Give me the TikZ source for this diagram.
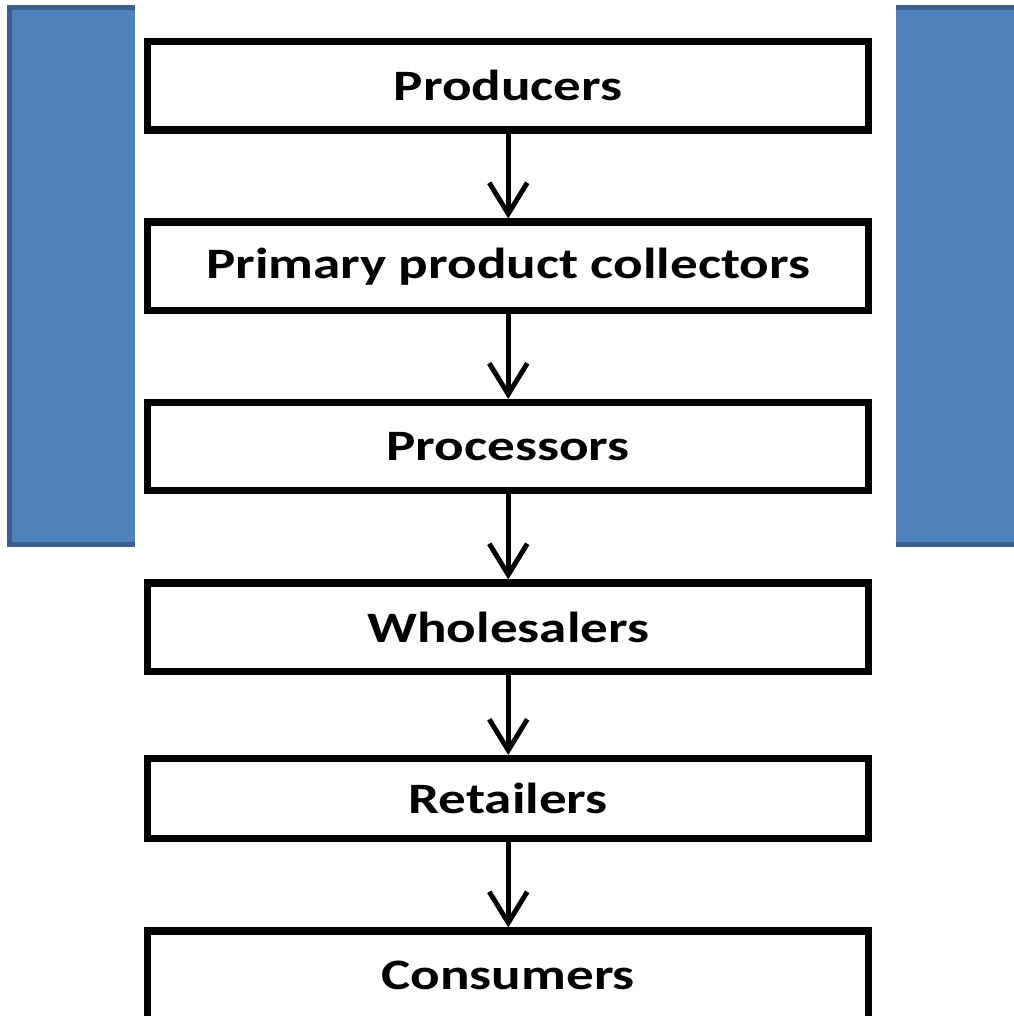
\documentclass[tikz,border=0pt]{standalone}
\usepackage{fontspec}
\setmainfont{Carlito}[FakeStretch=1.27]
\usetikzlibrary{positioning, arrows.meta}
\definecolor{slideblue}{HTML}{4F81BD}
\definecolor{slideedge}{HTML}{3A5F8E}

\begin{document}
\begin{tikzpicture}[
    x=0.02cm, y=-0.02cm,
    node distance=1.7cm,
    every node/.style={font=\fontsize{24.7}{28}\selectfont\bfseries, align=center},
    box/.style={
        draw, line width=4pt, fill=white,
        minimum width=14.43cm, minimum height=1.77cm, inner sep=0pt
    },
    line/.style={-{Straight Barb[length=0.62cm, width=0.76cm]}, line width=2.8pt}
]

\useasboundingbox (0,0) rectangle (1013,1016);

% --- Blue slide panel behind, with a white strip over its middle ---
\draw[fill=slideblue, draw=slideedge, line width=2.8pt] (9.5,7.5) rectangle (1040,544.5);
\fill[white] (135,-10) rectangle (896,1030);

% --- Supply chain stack ---
\node[box] (producers) at (508.25,85.75) {Producers};
\node[box, below=of producers] (collectors) {Primary product collectors};
\node[box, below=of collectors] (processors) {Processors};
\node[box, below=of processors] (wholesalers) {Wholesalers};
\node[box, below=1.6cm of wholesalers, minimum height=1.61cm] (retailers) {Retailers};
\node[box, below=of retailers] (consumers) {Consumers};

% --- Arrows between the stages ---
\draw[line] (producers) -- (collectors);
\draw[line] (collectors) -- (processors);
\draw[line] (processors) -- (wholesalers);
\draw[line] (wholesalers) -- (retailers);
\draw[line] (retailers) -- (consumers);

\end{tikzpicture}
\end{document}
